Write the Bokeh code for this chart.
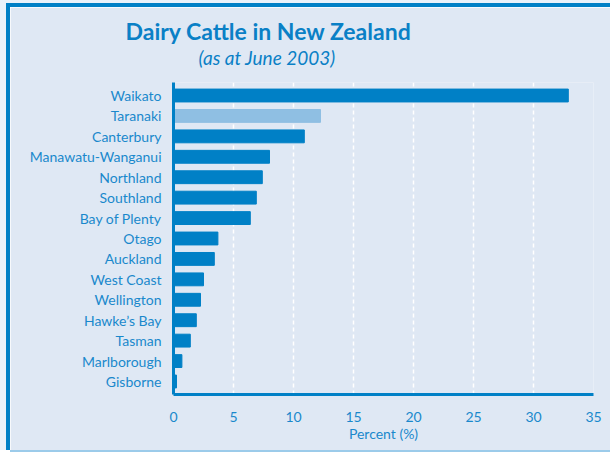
from bokeh.plotting import figure
from bokeh.models import FactorRange, Range1d, Title, ColumnDataSource, SingleIntervalTicker
from bokeh.embed import file_html
from bokeh.resources import INLINE

regions = ["Waikato", "Taranaki", "Canterbury", "Manawatu-Wanganui", "Northland",
           "Southland", "Bay of Plenty", "Otago", "Auckland", "West Coast",
           "Wellington", "Hawke\u2019s Bay", "Tasman", "Marlborough", "Gisborne"]
percent = [32.9, 12.25, 10.9, 8.0, 7.4, 6.9, 6.4, 3.7, 3.4, 2.5, 2.25, 1.9, 1.4, 0.7, 0.25]
highlight = "Taranaki"

BLUE = "#0080c6"
LIGHT = "#8fbfe3"
TEXT = "#1a88cc"
BG = "#dfe8f4"
OUTER = "#eaf2fa"
FONT = "Lato"

colors = [LIGHT if r == highlight else BLUE for r in regions]
src = ColumnDataSource(dict(region=regions, percent=percent, color=colors))

W, H = 600, 443
p = figure(width=W, height=H,
           y_range=FactorRange(factors=list(reversed(regions)), range_padding=0.137,
                               range_padding_units="absolute"),
           x_range=Range1d(0, 35),
           output_backend="svg", toolbar_location=None,
           min_border_left=163, min_border_right=17, min_border_top=75, min_border_bottom=56)

# blue frame drawn as outer box-shadows so the layout size is unaffected
p.styles = {"margin-left": "10px", "margin-top": "7px",
            "box-shadow": ("-4px 0 0 0 #0080c6, 0 -4px 0 0 #0080c6, -4px -4px 0 0 #0080c6, "
                           "0 2px 0 0 #9ccbea, -10px 0 0 0 %s, 0 -7px 0 0 %s, -10px -7px 0 0 %s"
                           % (OUTER, OUTER, OUTER))}

p.hbar(y="region", right="percent", left=0, height=0.63, color="color", source=src)

p.background_fill_color = BG
p.border_fill_color = BG
p.outline_line_color = None

p.ygrid.grid_line_color = None
p.xgrid.grid_line_color = "white"
p.xgrid.grid_line_dash = "4 3"
p.xgrid.grid_line_width = 1.5
p.xaxis.ticker = SingleIntervalTicker(interval=5)

for ax in (p.xaxis, p.yaxis):
    ax.axis_line_color = BLUE
    ax.axis_line_width = 3
    ax.major_tick_line_color = None
    ax.minor_tick_line_color = None
    ax.major_label_text_color = TEXT
    ax.major_label_text_font = FONT
    ax.major_label_text_font_size = "14px"

p.yaxis.major_label_standoff = 6
p.xaxis.major_label_standoff = 11
p.xaxis.axis_label = "Percent (%)"
p.xaxis.axis_label_text_color = TEXT
p.xaxis.axis_label_text_font = FONT
p.xaxis.axis_label_text_font_style = "normal"
p.xaxis.axis_label_text_font_size = "14px"
p.xaxis.axis_label_standoff = 0

p.add_layout(Title(text="(as at June 2003)", align="left", offset=25, text_font=FONT,
                   text_font_style="italic", text_font_size="19px", text_color="#0a80c6",
                   standoff=28), "above")
p.add_layout(Title(text="Dairy Cattle in New Zealand", align="left", offset=-48, text_font=FONT,
                   text_font_style="bold", text_font_size="23px", text_color="#0a80c6",
                   standoff=-31), "above")

open("out.html", "w").write(file_html(p, INLINE))
